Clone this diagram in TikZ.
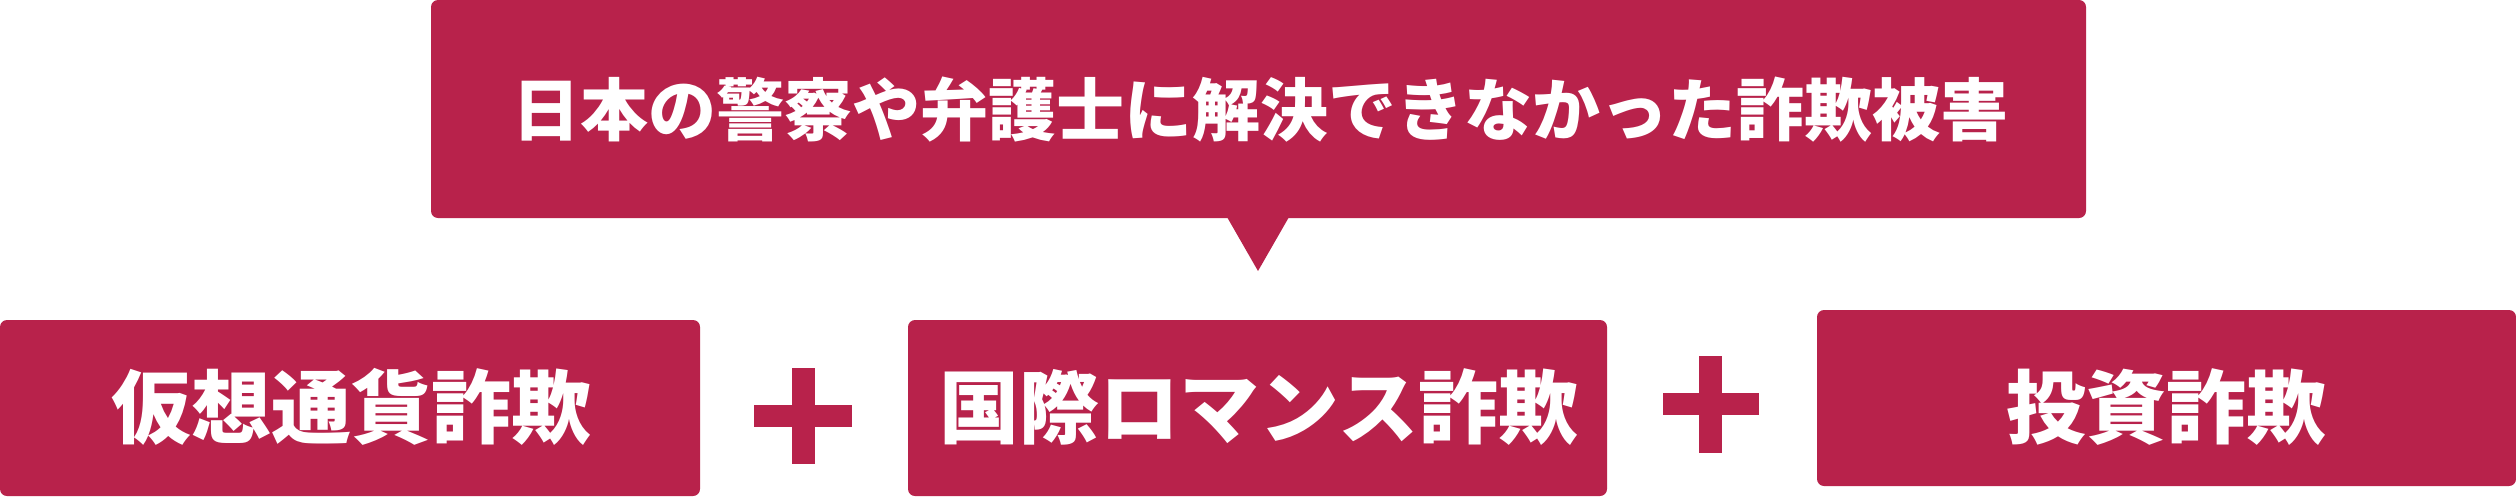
\documentclass[tikz,border=0pt]{standalone}
\usepackage{fontspec}
\newfontfamily\cjk{Noto Sans CJK JP}[BoldFont={Noto Sans CJK JP Black}]
\definecolor{crim}{HTML}{B8224B}
\tikzset{
  box/.style={fill=crim, draw=none, rounded corners=7pt},
  lbl/.style={text=white, inner sep=0pt, font=\cjk\bfseries},
  plusbar/.style={fill=crim, draw=none},
}
\begin{document}
\begin{tikzpicture}[x=1pt,y=-1pt]
\useasboundingbox (0,0) rectangle (2516,496);
% top callout
\fill[box] (431,0) rectangle (2086,218);
\fill[crim] (1227,217) -- (1289,217) -- (1258,271) -- cycle;
\node[lbl, font=\cjk\bfseries\fontsize{68}{68}\selectfont] (top) at (1260,110) {日本の警察や弁護士に解決できなかった詐欺被害};
% bottom boxes
\fill[box] (0,320) rectangle (700,496);
\node[lbl, font=\cjk\bfseries\fontsize{80}{80}\selectfont] (a) at (351,407) {仮想通貨詐欺};
\fill[box] (908,320) rectangle (1607,496);
\node[lbl, font=\cjk\bfseries\fontsize{80}{80}\selectfont] (b) at (1259,407) {国際ロマンス詐欺};
\fill[box] (1817,310) rectangle (2516,486);
\node[lbl, font=\cjk\bfseries\fontsize{80}{80}\selectfont] (c) at (2166,407) {投資詐欺};
% plus signs
\fill[plusbar] (792,368) rectangle (815,464);
\fill[plusbar] (754,405) rectangle (852,427);
\fill[plusbar] (1699,356) rectangle (1722,453);
\fill[plusbar] (1663,393) rectangle (1759,415);
\end{tikzpicture}
\end{document}
